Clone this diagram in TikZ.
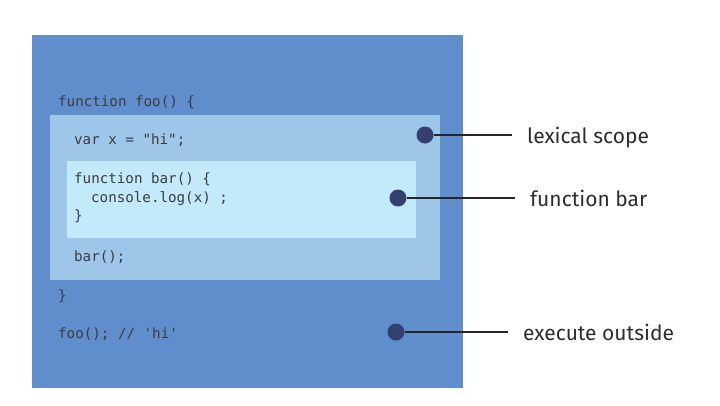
\documentclass[tikz,border=0pt]{standalone}
\usepackage{fontspec}
\setmainfont{Fira Sans}
\setmonofont{DejaVu Sans Mono}
\definecolor{outerblue}{RGB}{96,142,204}
\definecolor{midblue}{RGB}{158,198,232}
\definecolor{innerblue}{RGB}{194,234,250}
\definecolor{dotblue}{RGB}{52,64,110}
\definecolor{codegray}{RGB}{58,60,66}
\definecolor{notegray}{RGB}{45,45,48}
\begin{document}
\begin{tikzpicture}[x=1pt,y=-1pt]
		\tikzstyle{box}=[rectangle,inner sep=0pt,anchor=north west]
		\tikzstyle{code}=[anchor=west,inner sep=0pt,text=codegray,text height=9.5pt,text depth=3pt,font=\ttfamily\fontsize{14.2}{17}\selectfont]
		\tikzstyle{bullet}=[circle,fill=dotblue,minimum size=17pt,inner sep=0pt]
		\tikzstyle{note}=[anchor=west,inner xsep=15pt,inner ysep=0pt,text=notegray,text height=20pt,text depth=2.5pt,font=\fontsize{21}{25}\selectfont]
		\tikzstyle{leader}=[draw=black!85, line width=1.2pt]

		\useasboundingbox (0,0) rectangle (720,405);

		 \node [box,fill=outerblue,minimum width=431pt,minimum height=353pt] (foo) at (32,35) {};
		 \node [box,fill=midblue,minimum width=390pt,minimum height=165pt] (scope) at (50,115) {};
		 \node [box,fill=innerblue,minimum width=349pt,minimum height=77pt] (bar) at (67,161) {};

		 \node [code] (l1) at (58,103) {function foo() \{};
		 \node [code] (l2) at (74,141) {var x = "hi";};
		 \node [code] (l3) at (74,180) {function bar() \{};
		 \node [code] (l4) at (91,199) {console.log(x) ;};
		 \node [code] (l5) at (74,217) {\}};
		 \node [code] (l6) at (74,258) {bar();};
		 \node [code] (l7) at (58,297) {\}};
		 \node [code] (l8) at (58,335) {foo(); // 'hi'};

		 \node [bullet] (d1) at (425,135) {};
		 \node [bullet] (d2) at (398,198) {};
		 \node [bullet] (d3) at (396,332) {};

		 \node [note] (n1) at (512,135) {lexical scope};
		 \node [note] (n2) at (515,198) {function bar};
		 \node [note] (n3) at (508,332) {execute outside};

		 \path[leader] (d1) -- (n1.west);
		 \path[leader] (d2) -- (n2.west);
		 \path[leader] (d3) -- (n3.west);

	\end{tikzpicture}
\end{document}
